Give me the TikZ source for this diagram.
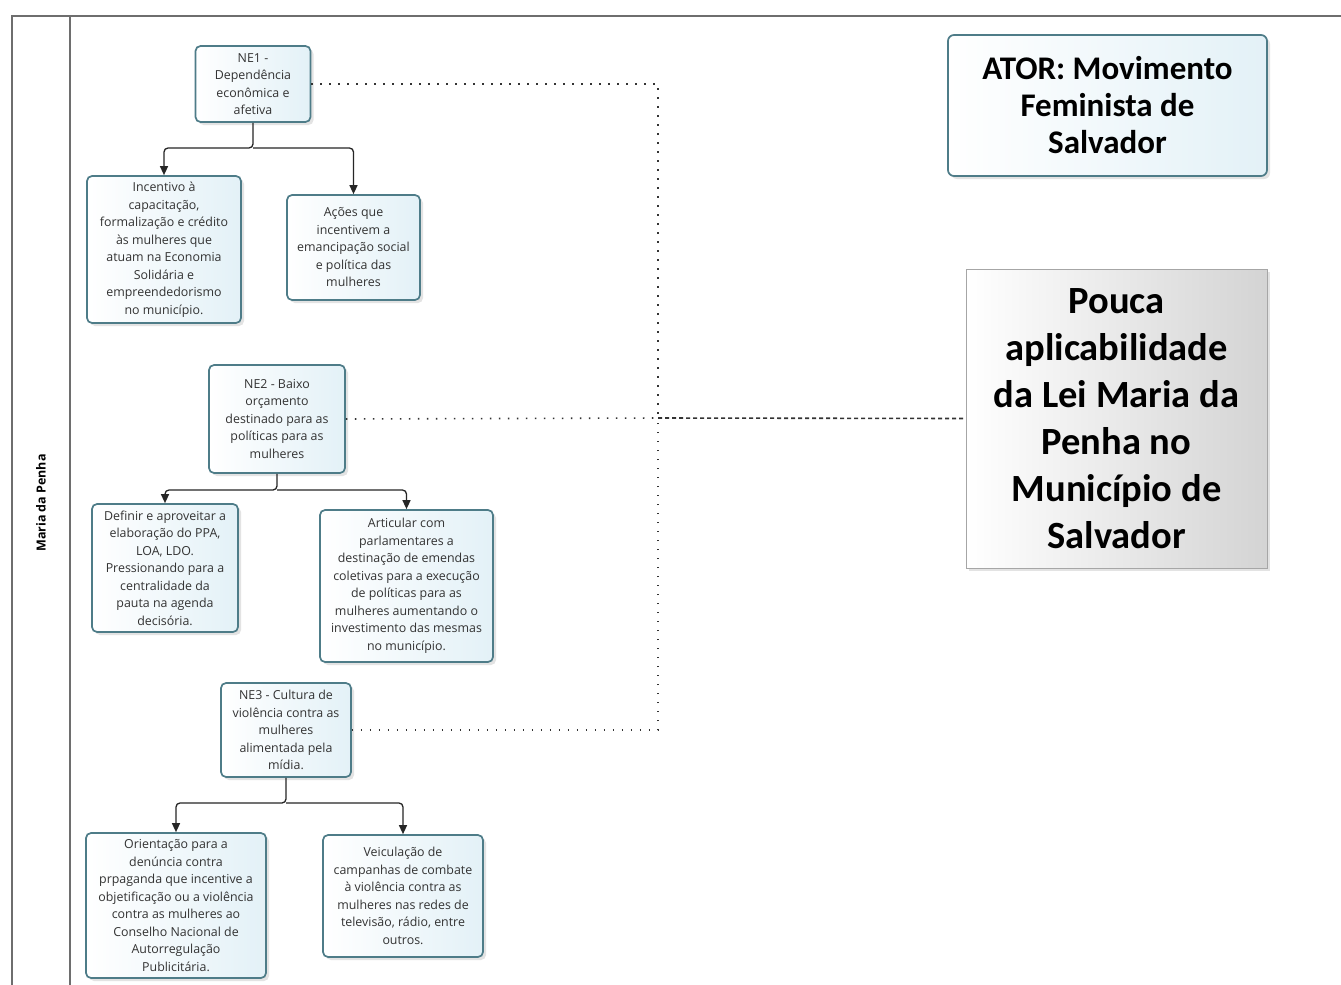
\documentclass[tikz,border=0pt]{standalone}
\usepackage{fontspec}
\setmainfont{Open Sans}
\newfontfamily\bigfont{Carlito}
\usetikzlibrary{shadows,arrows.meta}
\definecolor{boxborder}{HTML}{4E7C88}
\definecolor{boxfill}{HTML}{E3F1F7}
\definecolor{framecol}{HTML}{6E6E6E}
\tikzset{
  shadowed/.style={drop shadow={opacity=0.22, shadow xshift=3pt, shadow yshift=-3pt}},
  nebox/.style={draw=boxborder, line width=1.7pt, rounded corners=5pt,
    left color=white, right color=boxfill, shadowed,
    align=center, inner sep=0pt, text=black!80,
    font=\fontsize{12.4}{17.5}\selectfont},
  arr/.style={draw=black!85, line width=1.3pt, rounded corners=4pt,
    -{Triangle[length=9pt,width=8pt]}},
  trunk/.style={draw=black!80, line width=1.6pt, dash pattern=on 1.6pt off 7.4pt},
  dashes/.style={draw=black!80, line width=1.6pt, dash pattern=on 4pt off 3pt},
  framelines/.style={draw=framecol, line width=1.3pt},
}
\begin{document}
\begin{tikzpicture}[x=1pt, y=-1pt]
\useasboundingbox (0,0) rectangle (1341,985);
\fill[white] (0,0) rectangle (1341,985);

% pool frame
\coordinate (ftr) at (1341,16);
\coordinate (ftl) at (12,16);
\coordinate (fbl) at (12,985);
\coordinate (dtop) at (70,16);
\coordinate (dbot) at (70,985);
\draw[framelines] (ftr) -- (ftl) -- (fbl);
\draw[framelines] (dtop) -- (dbot);
\node[rotate=90, font=\bfseries\fontsize{12.5}{14}\selectfont] (lane) at (41,503) {Maria da Penha};

% NE1
\node[nebox, minimum width=115pt, minimum height=76pt] (ne1) at (253,84)
  {NE1 -\\Dependência\\econômica e\\afetiva};
\node[nebox, minimum width=154pt, minimum height=147pt] (c1a) at (164,249.5)
  {Incentivo à\\capacitação,\\formalização e crédito\\às mulheres que\\atuam na Economia\\Solidária e\\empreendedorismo\\no município.};
\node[nebox, minimum width=133pt, minimum height=105pt] (c1b) at (353.5,247.5)
  {Ações que\\incentivem a\\emancipação social\\e política das\\mulheres};
\coordinate (j1) at (253,148);
\draw[arr] (ne1.south) -- (j1) -| (c1a.north);
\draw[arr] (j1) -| (c1b.north);

% NE2
\node[nebox, minimum width=136pt, minimum height=108pt] (ne2) at (277,419)
  {NE2 - Baixo\\orçamento\\destinado para as\\políticas para as\\mulheres};
\node[nebox, minimum width=146pt, minimum height=128pt] (c2a) at (165,568)
  {Definir e aproveitar a\\elaboração do PPA,\\LOA, LDO.\\Pressionando para a\\centralidade da\\pauta na agenda\\decisória.};
\node[nebox, minimum width=173pt, minimum height=152pt] (c2b) at (406.5,586)
  {Articular com\\parlamentares a\\destinação de emendas\\coletivas para a execução\\de políticas para as\\mulheres aumentando o\\investimento das mesmas\\no município.};
\coordinate (j2) at (277,490);
\draw[arr] (ne2.south) -- (j2) -| (c2a.north);
\draw[arr] (j2) -| (c2b.north);

% NE3
\node[nebox, minimum width=130pt, minimum height=94pt] (ne3) at (286,730)
  {NE3 - Cultura de\\violência contra as\\mulheres\\alimentada pela\\mídia.};
\node[nebox, minimum width=180pt, minimum height=145pt] (c3a) at (176,905.5)
  {Orientação para a\\denúncia contra\\prpaganda que incentive a\\objetificação ou a violência\\contra as mulheres ao\\Conselho Nacional de\\Autorregulação\\Publicitária.};
\node[nebox, minimum width=160pt, minimum height=122pt] (c3b) at (403,896)
  {Veiculação de\\campanhas de combate\\à violência contra as\\mulheres nas redes de\\televisão, rádio, entre\\outros.};
\coordinate (j3) at (286,803);
\draw[arr] (ne3.south) -- (j3) -| (c3a.north);
\draw[arr] (j3) -| (c3b.north);

% actor box
\node[draw=boxborder, line width=1.7pt, rounded corners=6pt,
  left color=white, right color=boxfill, shadowed,
  minimum width=319pt, minimum height=141pt, inner sep=0pt, align=center,
  font=\bigfont\bfseries\fontsize{33}{37}\selectfont] (ator) at (1107.5,105.5)
  {ATOR: Movimento\\Feminista de\\Salvador};

% central problem box
\node[draw=black!35, line width=0.8pt,
  left color=white, right color=black!17, shadowed,
  minimum width=301pt, minimum height=299pt, inner sep=0pt, align=center,
  font=\bigfont\bfseries\fontsize{38.5}{47}\selectfont] (pouca) at (1116.5,418.5)
  {Pouca\\aplicabilidade\\da Lei Maria da\\Penha no\\Município de\\Salvador};

% dotted trunk
\coordinate (trunk) at (658,418);
\draw[trunk] (ne1.east) -| (trunk);
\draw[trunk] (ne2.east) -- (trunk);
\draw[trunk] (ne3.east) -| (trunk);
\draw[dashes] (trunk) -- (pouca.west);
\end{tikzpicture}
\end{document}
